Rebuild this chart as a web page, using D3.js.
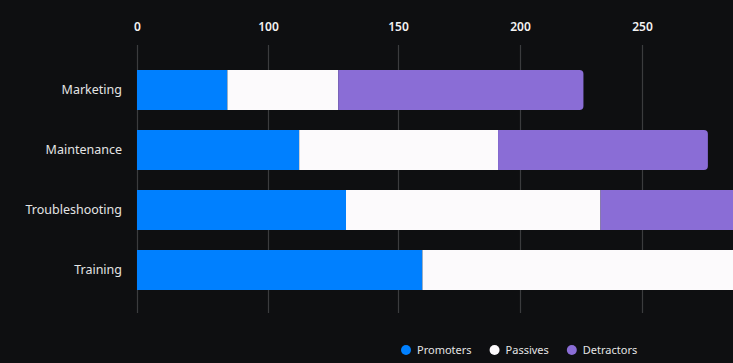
<!DOCTYPE html>
<html>
<head>
<meta charset="utf-8">
<script src="https://cdn.jsdelivr.net/npm/d3@7"></script>
<style>
  html, body { margin: 0; padding: 0; background: #0e0f11; }
  svg { display: block; font-family: "Noto Sans", "Open Sans", sans-serif; }
</style>
</head>
<body>
<div id="chart"></div>
<script>
const categories = ["Marketing", "Maintenance", "Troubleshooting", "Training"];
const seriesNames = ["Promoters", "Passives", "Detractors"];
const promoters = [69, 112, 130, 160];
const passives = [58, 79, 103, 140];
const detractors = [99, 86, 80, 60];
const tickValues = [0, 100, 150, 200, 250];

const colors = ["#0080ff", "#fcfafc", "#8a6dd6"];

const width = 733, height = 363;
const margin = { top: 50, left: 137, bottom: 53 };

const svg = d3.select("#chart").append("svg")
  .attr("width", width)
  .attr("height", height);

svg.append("rect").attr("width", width).attr("height", height).attr("fill", "#0e0f11");

// the axis is not evenly spaced in the source, so map each tick on its own
const x = d3.scaleLinear()
  .domain(tickValues)
  .range([0, 131, 261, 383, 505].map((d) => margin.left + d));

const y = d3.scaleBand()
  .domain(categories)
  .range([margin.top, height - margin.bottom])
  .paddingInner(1 / 3)
  .paddingOuter(1 / 3);

// grid
svg.append("g")
  .selectAll("line")
  .data(tickValues)
  .join("line")
  .attr("x1", (d) => x(d) + 0.5)
  .attr("x2", (d) => x(d) + 0.5)
  .attr("y1", 45)
  .attr("y2", 313)
  .attr("stroke", "#3b3c3e")
  .attr("stroke-width", 1.2);

// top tick labels
svg.append("g")
  .selectAll("text")
  .data(tickValues)
  .join("text")
  .attr("x", (d) => x(d) + 0.5)
  .attr("y", 31)
  .attr("text-anchor", "middle")
  .attr("fill", "#f2f2f2")
  .attr("font-size", 12)
  .attr("font-weight", 600)
  .text((d) => d);

const rows = categories.map((c, i) => ({
  name: c,
  Promoters: promoters[i],
  Passives: passives[i],
  Detractors: detractors[i],
}));
const stacked = d3.stack().keys(seriesNames)(rows);

function barPath(x0, x1, y0, h, r) {
  return `M${x0},${y0}H${x1 - r}Q${x1},${y0} ${x1},${y0 + r}V${y0 + h - r}Q${x1},${y0 + h} ${x1 - r},${y0 + h}H${x0}Z`;
}

stacked.forEach((layer, li) => {
  svg.append("g")
    .selectAll("path")
    .data(layer)
    .join("path")
    .attr("fill", colors[li])
    .attr("d", (d) => {
      const r = li === seriesNames.length - 1 ? 4 : 0;
      return barPath(x(d[0]), x(d[1]), y(d.data.name), y.bandwidth(), r);
    });
});

// category labels
svg.append("g")
  .selectAll("text")
  .data(categories)
  .join("text")
  .attr("x", 122)
  .attr("y", (d) => y(d) + y.bandwidth() / 2)
  .attr("dy", "0.35em")
  .attr("text-anchor", "end")
  .attr("fill", "#e4e4e4")
  .attr("font-size", 12.5)
  .text((d) => d);

// legend
const legend = svg.append("g").attr("transform", "translate(406, 350)");
let lx = 0;
seriesNames.forEach((name, i) => {
  const g = legend.append("g").attr("transform", `translate(${lx}, 0)`);
  g.append("circle").attr("r", 5).attr("fill", colors[i]);
  const t = g.append("text")
    .attr("x", 11)
    .attr("dy", "0.35em")
    .attr("fill", "#e4e4e4")
    .attr("font-size", 11)
    .text(name);
  lx += 11 + t.node().getComputedTextLength() + 23;
});
</script>
</body>
</html>
